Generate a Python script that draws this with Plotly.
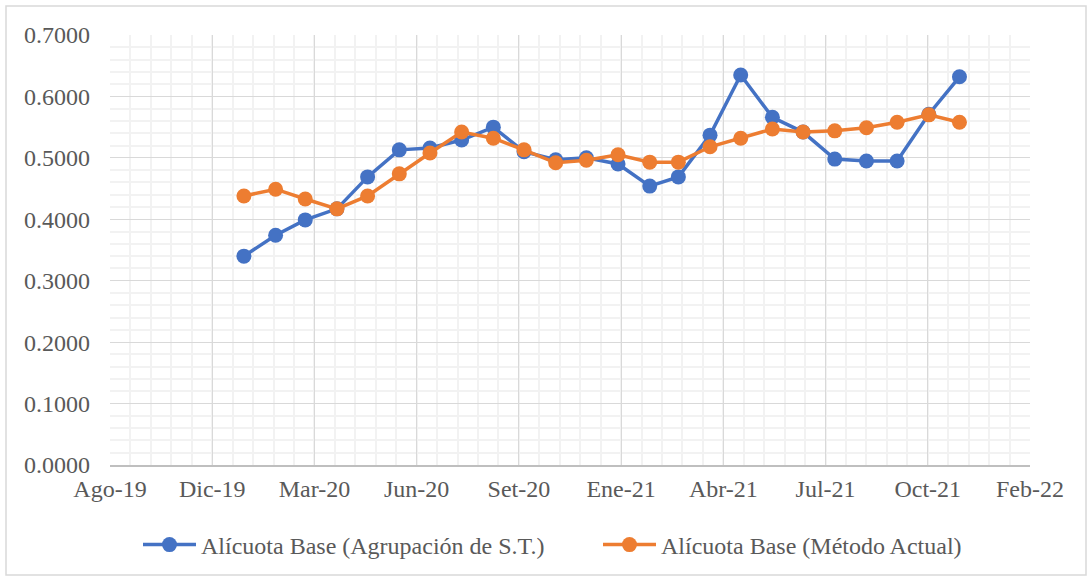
import datetime as dt
import plotly.graph_objects as go

# ---- data ----
months = [f"{y}-{m:02d}-01" for y in (2020, 2021) for m in range(1, 13)]
agrupacion = [0.340, 0.374, 0.399, 0.417, 0.469, 0.513, 0.516, 0.529, 0.550, 0.510,
              0.497, 0.500, 0.490, 0.454, 0.469, 0.537, 0.635, 0.566, 0.542, 0.498,
              0.495, 0.495, 0.571, 0.632]
metodo_actual = [0.438, 0.449, 0.433, 0.417, 0.438, 0.474, 0.508, 0.542, 0.532, 0.513,
                 0.492, 0.496, 0.505, 0.493, 0.493, 0.518, 0.532, 0.547, 0.542, 0.544,
                 0.549, 0.558, 0.570, 0.558]
tick_labels = ["Ago-19", "Dic-19", "Mar-20", "Jun-20", "Set-20", "Ene-21",
               "Abr-21", "Jul-21", "Oct-21", "Feb-22"]
series_names = ["Alícuota Base (Agrupación de S.T.)", "Alícuota Base (Método Actual)"]

# ---- axis geometry (Excel-like date axis: min 43700, step 100 days) ----
x_start = dt.date(2019, 8, 23)
major_step = 100
minor_step = 20
tickvals = [(x_start + dt.timedelta(days=major_step * i)).isoformat() for i in range(len(tick_labels))]
x_end = x_start + dt.timedelta(days=major_step * (len(tick_labels) - 1))
minor_vals = [(x_start + dt.timedelta(days=d)).isoformat()
              for d in range(0, (x_end - x_start).days + 1, minor_step)]

BLUE = "#4472C4"
ORANGE = "#ED7D31"
TEXT = "#595959"
FONT = "'Liberation Serif', 'Times New Roman', serif"

fig = go.Figure()
for name, vals, col, lg in [(series_names[0], agrupacion, BLUE, "legend"),
                            (series_names[1], metodo_actual, ORANGE, "legend2")]:
    fig.add_trace(go.Scatter(
        x=months, y=vals, name=name, mode="lines+markers",
        line=dict(color=col, width=3.5),
        marker=dict(color=col, size=15),
        hoverinfo="skip", legend=lg,
    ))

W, H = 1092, 579
L, R, T, B = 110, 62, 35, 114
pw, ph = W - L - R, H - T - B

legend_common = dict(orientation="h", xref="container", yref="container",
                     xanchor="left", y=(H - 545) / H, yanchor="middle",
                     bgcolor="rgba(0,0,0,0)",
                     font=dict(family=FONT, size=24, color=TEXT), itemwidth=53)

fig.update_layout(
    width=W, height=H,
    margin=dict(l=L, r=R, t=T, b=B, autoexpand=False),
    paper_bgcolor="white", plot_bgcolor="white",
    font=dict(family=FONT, size=24, color=TEXT),
    showlegend=True,
    legend=dict(x=138 / W, **legend_common),
    legend2=dict(x=598 / W, **legend_common),
    xaxis=dict(
        type="date", range=[x_start.isoformat(), x_end.isoformat()], automargin=False,
        tickmode="array", tickvals=tickvals, ticktext=tick_labels,
        showgrid=True, gridcolor="#D9D9D9", gridwidth=1.3,
        minor=dict(tickmode="array", tickvals=minor_vals, showgrid=True, gridcolor="#F2F2F2", gridwidth=2),
        showline=True, linecolor="#BFBFBF", linewidth=1.5,
        ticks="", ticklabelstandoff=1, zeroline=False,
        tickfont=dict(family=FONT, size=24, color=TEXT),
    ),
    yaxis=dict(
        range=[0, 0.7], tickmode="linear", tick0=0, dtick=0.1, tickformat=".4f", automargin=False,
        showgrid=True, gridcolor="#D9D9D9", gridwidth=1.3,
        minor=dict(dtick=0.02, showgrid=True, gridcolor="#F2F2F2", gridwidth=2),
        showline=False, zeroline=False, ticks="", ticklabelstandoff=19,
        tickfont=dict(family=FONT, size=24, color=TEXT),
    ),
    shapes=[dict(type="rect", xref="paper", yref="paper",
                 x0=(6 - L) / pw, x1=(1086 - L) / pw,
                 y0=(H - B - 575) / ph, y1=(H - B - 6) / ph,
                 line=dict(color="#D9D9D9", width=1.5), fillcolor="rgba(0,0,0,0)", layer="below")],
)

fig.write_html("out.html", config={"displayModeBar": False},
               post_script="document.body.style.margin='0';document.body.style.overflow='hidden';")
